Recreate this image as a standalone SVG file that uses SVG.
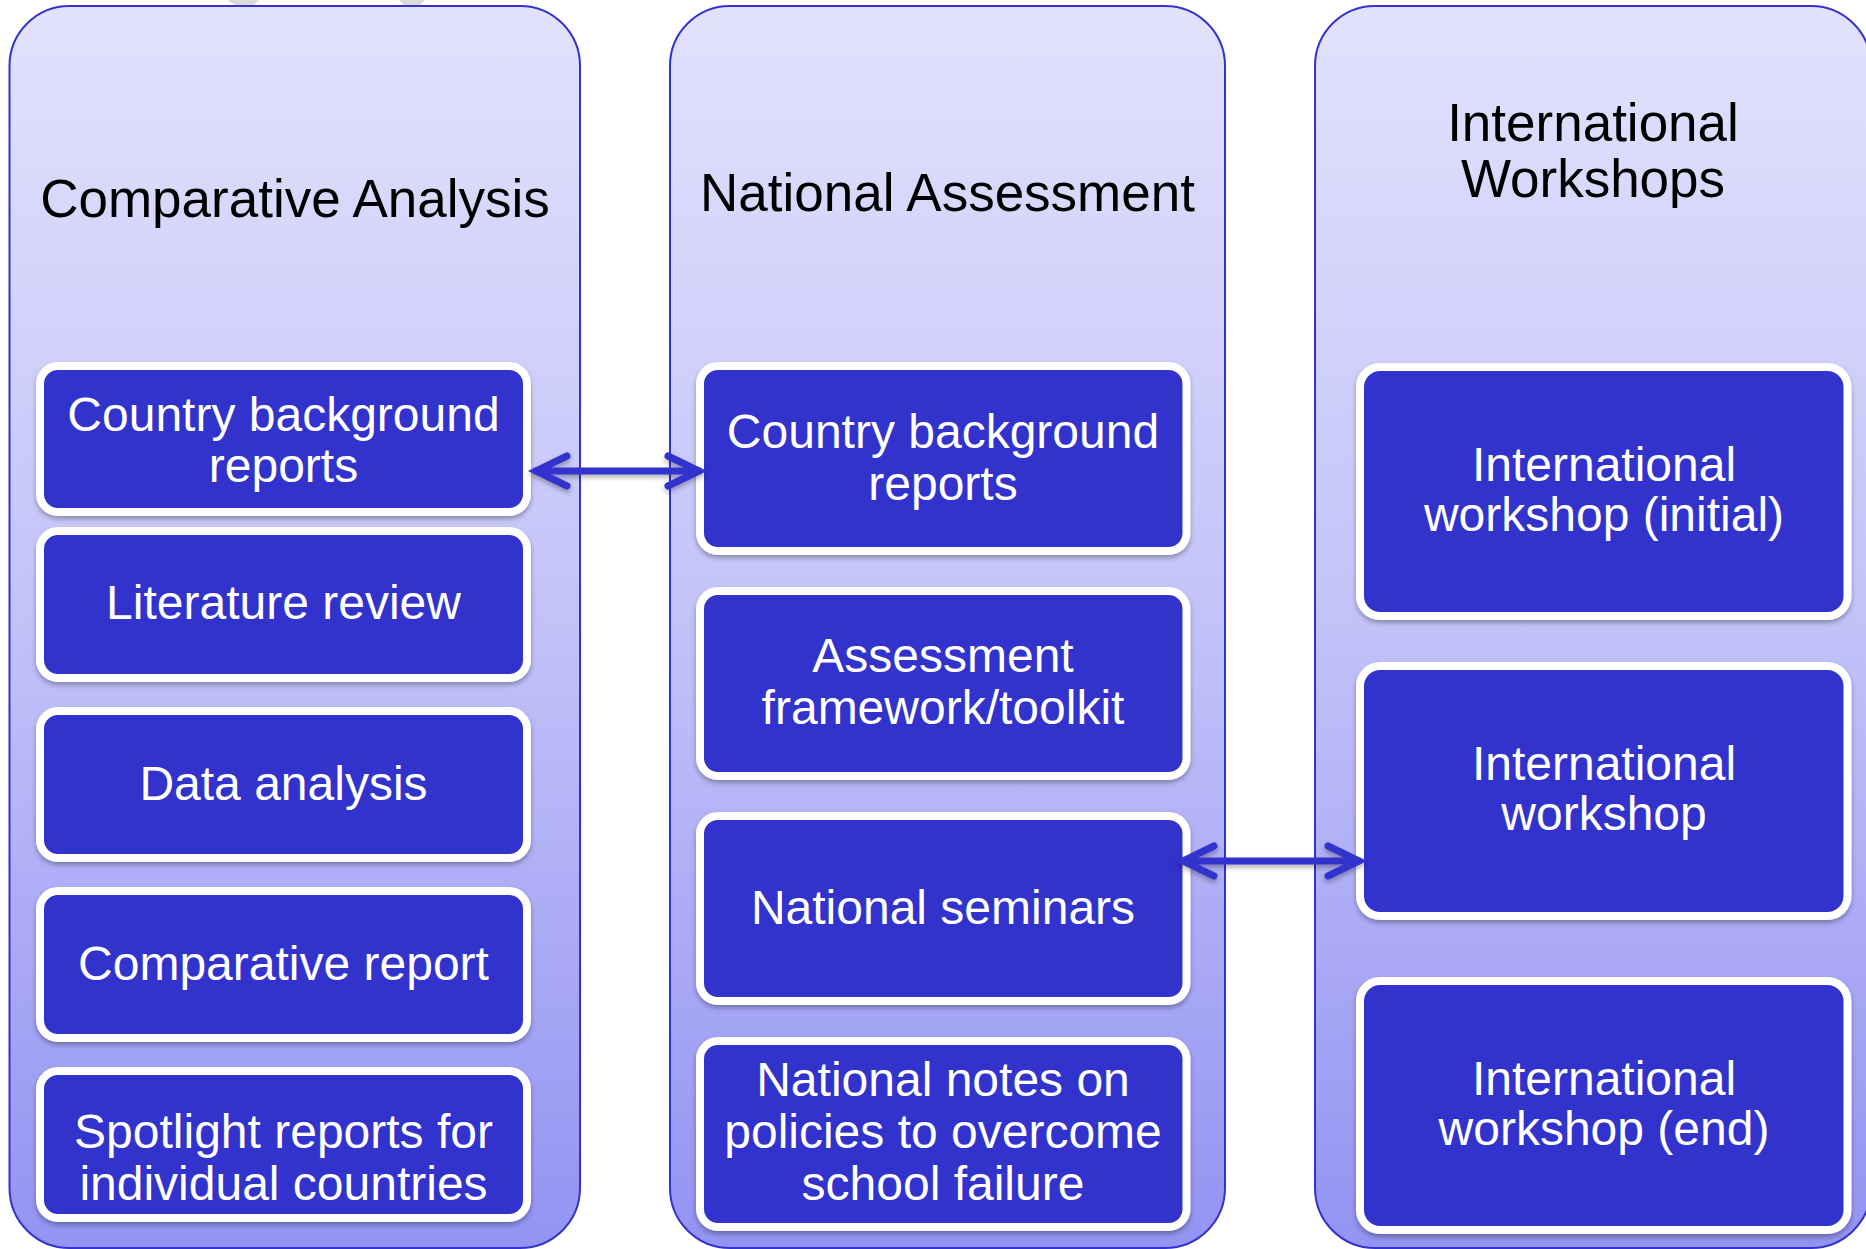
<svg xmlns="http://www.w3.org/2000/svg" width="1866" height="1249" viewBox="0 0 1866 1249">
<style>
.col{stroke:#3333CC;stroke-width:2;fill:url(#colGrad)}
.box{fill:#3333CC;stroke:#FFFFFF;stroke-width:8;filter:url(#shadow)}
.title{font-family:"Liberation Sans",Arial,sans-serif;font-size:53px;fill:#000000;text-anchor:middle}
.lbl{font-family:"Liberation Sans",Arial,sans-serif;font-size:48px;fill:#FFFFFF;text-anchor:middle}
.conn{stroke:#3333CC;stroke-width:7;fill:none;stroke-linecap:round;marker-start:url(#chev);marker-end:url(#chev)}
</style>
<defs>
<linearGradient id="colGrad" x1="0" y1="0" x2="0" y2="1">
<stop offset="0" stop-color="#E2E2FD"/>
<stop offset="0.5" stop-color="#C2C2F9"/>
<stop offset="1" stop-color="#9393F3"/>
</linearGradient>
<filter id="shadow" x="-10%" y="-10%" width="120%" height="130%">
<feDropShadow dx="0" dy="3" stdDeviation="2.5" flood-color="#000000" flood-opacity="0.3"/>
</filter>
<filter id="connShadow" filterUnits="userSpaceOnUse" x="0" y="0" width="1866" height="1249">
<feDropShadow dx="0" dy="3" stdDeviation="2.5" flood-color="#000000" flood-opacity="0.3"/>
</filter>
<marker id="chev" markerUnits="userSpaceOnUse" viewBox="-40 -22 46 44" refX="0" refY="0" markerWidth="46" markerHeight="44" orient="auto-start-reverse" overflow="visible">
<path d="M -31 -15 L 0 0 L -31 15" fill="none" stroke="#3333CC" stroke-width="7" stroke-linecap="round" stroke-linejoin="miter"/>
</marker>
</defs>
<rect width="1866" height="1249" fill="#FFFFFF"/>
<polygon points="227,0 259,0 253,6 237,6" fill="#DADADA"/>
<polygon points="399,0 425,0 419,6 405,6" fill="#DADADA"/>

<g id="col-comparative">
<rect class="col" x="9.5" y="6" width="570.5" height="1242" rx="60" ry="60"/>
<text class="title" x="295" y="217">Comparative Analysis</text>
</g>
<g id="col-national">
<rect class="col" x="670" y="6" width="555" height="1242" rx="60" ry="60"/>
<text class="title" x="947.5" y="211">National Assessment</text>
</g>
<g id="col-international">
<rect class="col" x="1315" y="6" width="556" height="1242" rx="60" ry="60"/>
<text class="title" x="1593" y="141">International</text>
<text class="title" x="1593" y="197">Workshops</text>
</g>

<g id="ca-country-reports">
<rect class="box" x="40" y="366" width="487" height="146" rx="18"/>
<text class="lbl" x="283.5" y="431">Country background</text>
<text class="lbl" x="283.5" y="482">reports</text>
</g>
<g id="ca-literature">
<rect class="box" x="40" y="531" width="487" height="147" rx="18"/>
<text class="lbl" x="283.5" y="619">Literature review</text>
</g>
<g id="ca-data">
<rect class="box" x="40" y="711" width="487" height="147" rx="18"/>
<text class="lbl" x="283.5" y="800">Data analysis</text>
</g>
<g id="ca-comparative-report">
<rect class="box" x="40" y="891" width="487" height="147" rx="18"/>
<text class="lbl" x="283.5" y="980">Comparative report</text>
</g>
<g id="ca-spotlight">
<rect class="box" x="40" y="1071" width="487" height="147" rx="18"/>
<text class="lbl" x="283.5" y="1148">Spotlight reports for</text>
<text class="lbl" x="283.5" y="1200">individual countries</text>
</g>

<g id="na-country-reports">
<rect class="box" x="700" y="366" width="486.5" height="185" rx="18"/>
<text class="lbl" x="943" y="448">Country background</text>
<text class="lbl" x="943" y="500">reports</text>
</g>
<g id="na-framework">
<rect class="box" x="700" y="591" width="486.5" height="185" rx="18"/>
<text class="lbl" x="943" y="672">Assessment</text>
<text class="lbl" x="943" y="724">framework/toolkit</text>
</g>
<g id="na-seminars">
<rect class="box" x="700" y="816" width="486.5" height="185" rx="18"/>
<text class="lbl" x="943" y="924">National seminars</text>
</g>
<g id="na-notes">
<rect class="box" x="700" y="1041" width="486.5" height="186" rx="18"/>
<text class="lbl" x="943" y="1096">National notes on</text>
<text class="lbl" x="943" y="1148">policies to overcome</text>
<text class="lbl" x="943" y="1200">school failure</text>
</g>

<g id="iw-initial">
<rect class="box" x="1360" y="367" width="487.5" height="249" rx="20"/>
<text class="lbl" x="1604" y="481">International</text>
<text class="lbl" x="1604" y="531">workshop (initial)</text>
</g>
<g id="iw-middle">
<rect class="box" x="1360" y="666" width="487.5" height="250" rx="20"/>
<text class="lbl" x="1604" y="780">International</text>
<text class="lbl" x="1604" y="830">workshop</text>
</g>
<g id="iw-end">
<rect class="box" x="1360" y="981" width="487.5" height="249" rx="20"/>
<text class="lbl" x="1604" y="1095">International</text>
<text class="lbl" x="1604" y="1145">workshop (end)</text>
</g>

<g id="connectors" filter="url(#connShadow)">
<path class="conn" d="M 536 471 L 699 471"/>
<path class="conn" d="M 1183 861 L 1359 861"/>
</g>
</svg>
